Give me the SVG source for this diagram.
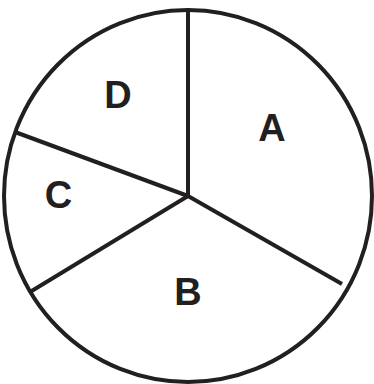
<svg xmlns="http://www.w3.org/2000/svg" width="374" height="384" viewBox="0 0 374 384">
<style>
.o{fill:none;stroke:#231f20;stroke-width:4}
.l{font-family:"Liberation Sans",Arial,sans-serif;font-weight:bold;font-size:38px;fill:#231f20;text-anchor:middle}
</style>
<rect width="374" height="384" fill="#fff"/>
<g id="circle"><ellipse class="o" cx="188" cy="196" rx="184" ry="186"/></g>
<g id="connectors">
<line class="o" x1="188" y1="196" x2="188" y2="10"/>
<line class="o" x1="188" y1="196" x2="342" y2="284"/>
<line class="o" x1="188" y1="196" x2="30" y2="292"/>
<line class="o" x1="188" y1="196" x2="15" y2="132"/>
</g>
<g id="A"><text class="l" x="272" y="141">A</text></g>
<g id="B"><text class="l" x="188" y="305">B</text></g>
<g id="C"><text class="l" x="58.5" y="208">C</text></g>
<g id="D"><text class="l" x="118" y="108">D</text></g>
</svg>
